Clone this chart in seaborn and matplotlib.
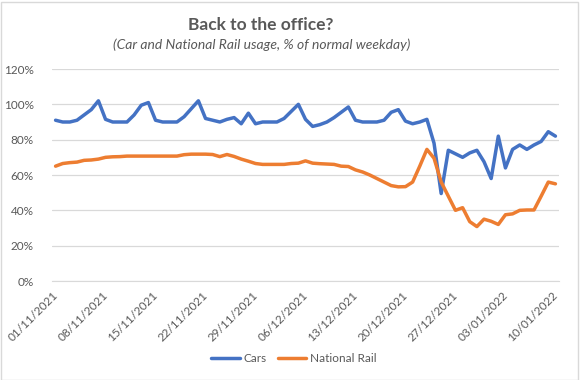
import numpy as np
import pandas as pd
import matplotlib
matplotlib.use("Agg")
import matplotlib.pyplot as plt
import matplotlib.dates as mdates
from matplotlib.ticker import FuncFormatter
from matplotlib.patches import Rectangle
import seaborn as sns

# daily values, 01/11/2021 - 10/01/2022 (% of normal weekday)
dates = pd.date_range("2021-11-01", "2022-01-10", freq="D")
cars = [91, 90, 90, 91, 94, 97, 102, 91.5, 90, 90, 90, 94, 99.5, 101,
        91, 90, 90, 90, 93, 97.5, 102, 92, 91, 90, 91.5, 92.5, 89, 95,
        89, 90, 90, 90, 92, 96, 100, 91.5, 87.5, 88.5, 90, 92.5, 95.5, 98.5,
        91, 90, 90, 90, 91, 95.5, 97, 90.5, 89, 90, 91.5, 78, 49.5, 74,
        72, 70, 72.5, 74, 67.5, 58, 82, 64, 74.5, 77, 74.5, 77, 79, 84.5, 82]
rail = [65, 66.5, 67, 67.3, 68.3, 68.5, 69, 70, 70.3, 70.4, 70.7, 70.7, 70.7, 70.7,
        70.7, 70.7, 70.7, 70.7, 71.5, 71.8, 71.8, 71.8, 71.6, 70.4, 71.6, 70.5, 69, 67.8,
        66.5, 66, 66, 66, 66, 66.5, 66.7, 68, 66.7, 66.4, 66.2, 66, 65, 64.8,
        62.9, 61.7, 60, 58, 56, 54, 53.3, 53.4, 56, 65, 74.5, 69.5, 56, 48,
        40, 41.5, 33.6, 30.8, 35, 33.8, 32, 37.5, 38, 40, 40.2, 40.2, 48, 56, 55]
series_names = ["Cars", "National Rail"]

df = pd.DataFrame({
    "date": np.concatenate([dates, dates]),
    "value": cars + rail,
    "series": [series_names[0]] * len(cars) + [series_names[1]] * len(rail),
})
# Excel plots each day in the middle of its slot
df["date"] = df["date"] + pd.Timedelta(hours=12)

sns.set_style("white")
plt.rcParams["font.family"] = ["Lato", "DejaVu Sans"]
txt = "#595959"

fig = plt.figure(figsize=(5.81, 3.80), dpi=100)
ax = fig.add_axes([52 / 581, 1 - 281 / 380, (559 - 52) / 581, (281 - 69) / 380])

sns.lineplot(data=df, x="date", y="value", hue="series",
             palette=["#4472C4", "#ED7D31"], linewidth=2.5, ax=ax, legend=False)

ax.set_xlim(pd.Timestamp("2021-11-01"), pd.Timestamp("2022-01-11"))
ax.set_ylim(0, 120)
ax.set_yticks(range(0, 121, 20))
ax.yaxis.set_major_formatter(FuncFormatter(lambda v, p: f"{v:.0f}%"))
ax.set_xticks(pd.date_range("2021-11-01", "2022-01-10", freq="7D"))
ax.xaxis.set_major_formatter(mdates.DateFormatter("%d/%m/%Y"))

ax.grid(axis="y", color="#d9d9d9", linewidth=0.9)
ax.set_axisbelow(True)
for s in ["top", "right", "left"]:
    ax.spines[s].set_visible(False)
ax.spines["bottom"].set_color("#d9d9d9")
ax.tick_params(axis="x", length=4, color="#d9d9d9", direction="out", labelsize=8.5, labelcolor=txt, pad=2)
ax.tick_params(axis="y", length=0, labelsize=8.5, labelcolor=txt, pad=13)
for lab in ax.get_xticklabels():
    lab.set_rotation(45)
    lab.set_ha("right")
    lab.set_rotation_mode("anchor")
ax.set_xlabel("")
ax.set_ylabel("")

fig.text(261 / 581, 1 - 25 / 380, "Back to the office?", ha="center", va="center",
         fontsize=12.5, fontweight="bold", color=txt)
fig.text(262 / 581, 1 - 45 / 380, "(Car and National Rail usage, % of normal weekday)",
         ha="center", va="center", fontsize=10, style="italic", color=txt)

handles = [plt.Line2D([], [], color=c, lw=2.5) for c in ["#4472C4", "#ED7D31"]]
fig.legend(handles, series_names, loc="center", bbox_to_anchor=(294 / 581, 1 - 359 / 380),
           ncol=2, frameon=False, fontsize=8.5, handlelength=2.4, handletextpad=0.3,
           columnspacing=1.0, labelcolor=txt)

fig.patches.append(Rectangle((0.5 / 581, 0.5 / 380), 577 / 581, 378 / 380, transform=fig.transFigure,
                             fill=False, edgecolor="#d9d9d9", linewidth=1))

fig.savefig("out.png", dpi=100)
